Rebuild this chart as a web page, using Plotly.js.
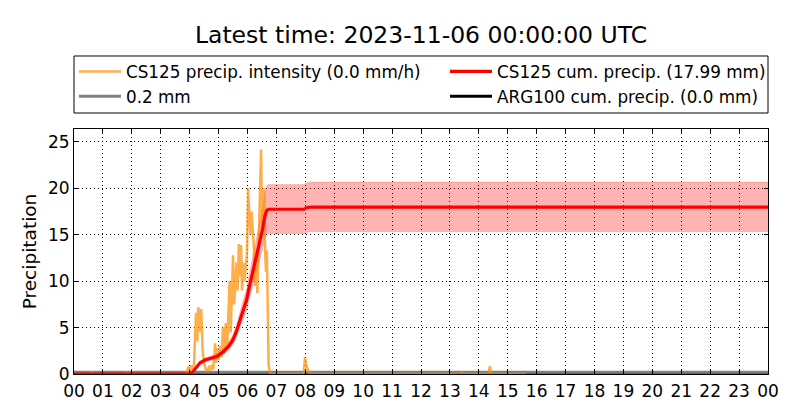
<!DOCTYPE html>
<html>
<head>
<meta charset="utf-8">
<script src="https://cdn.plot.ly/plotly-3.0.1.min.js"></script>
<style>html,body{margin:0;padding:0;background:#fff;}#chart{width:800px;height:420px;}</style>
</head>
<body>
<div id="chart"></div>
<script>
// Hours since 2023-11-06 00:00 UTC
const intensityTime = [0, 0.55, 0.6, 0.65, 1.75, 1.8, 1.85, 3.9, 3.95, 4.0, 4.05, 4.1, 4.15, 4.22, 4.26, 4.3, 4.36, 4.4, 4.45, 4.5, 4.55, 4.62, 4.68, 4.72, 4.78, 4.82, 4.88, 4.92, 4.96, 5.0, 5.05, 5.1, 5.15, 5.2, 5.25, 5.3, 5.34, 5.38, 5.42, 5.46, 5.5, 5.54, 5.58, 5.62, 5.66, 5.7, 5.74, 5.78, 5.81, 5.85, 5.9, 5.95, 5.98, 6.02, 6.06, 6.1, 6.14, 6.18, 6.22, 6.26, 6.3, 6.34, 6.38, 6.42, 6.47, 6.51, 6.54, 6.58, 6.61, 6.64, 6.67, 6.7, 6.73, 6.77, 6.82, 7.9, 7.95, 7.99, 8.03, 8.08, 8.14, 8.2, 13.35, 13.4, 13.45, 14.33, 14.38, 14.43, 15.63];
const intensity = [0, 0, 0.3, 0, 0, 0.15, 0, 0, 0.8, 0.3, 0.9, 0.5, 1.0, 6.6, 3.5, 7.2, 4.5, 7.0, 2.5, 1.2, 0.6, 0.3, 0.9, 0.4, 1.0, 0.5, 3.3, 1.2, 2.8, 1.5, 3.0, 1.8, 5.1, 2.2, 5.5, 3.0, 6.5, 10.0, 4.5, 8.0, 12.8, 7.5, 10.0, 12.0, 9.0, 14.0, 10.5, 13.9, 9.0, 12.0, 10.0, 11.5, 13.0, 20.0, 17.7, 15.0, 17.5, 15.5, 13.7, 9.5, 12.0, 8.7, 13.0, 18.0, 24.2, 15.0, 17.0, 20.0, 13.0, 11.0, 13.3, 6.5, 1.0, 0.2, 0, 0, 0.3, 1.85, 1.0, 0.5, 0.15, 0, 0, 0.15, 0, 0, 0.85, 0, 0];

const cumTime = [0, 4.0, 4.1, 4.2, 4.36, 4.53, 4.75, 4.93, 5.16, 5.35, 5.5, 5.62, 5.74, 5.86, 5.97, 6.08, 6.2, 6.32, 6.43, 6.52, 6.6, 6.66, 6.72, 7.95, 8.05, 8.2, 24];
const cumPrecip = [0, 0, 0.2, 0.6, 1.2, 1.5, 1.7, 1.87, 2.4, 3.0, 3.7, 4.6, 5.8, 6.9, 8.0, 9.6, 11.2, 12.7, 14.1, 15.6, 17.0, 17.6, 17.75, 17.75, 17.94, 17.99, 17.99];

const thresholdTime = [0, 24];
const thresholdValue = [0.2, 0.2];

const argTime = [0, 24];
const argCum = [0, 0];

const tickHours = [0,1,2,3,4,5,6,7,8,9,10,11,12,13,14,15,16,17,18,19,20,21,22,23,24];
const tickLabels = ["00","01","02","03","04","05","06","07","08","09","10","11","12","13","14","15","16","17","18","19","20","21","22","23","00"];

const bandUpper = cumPrecip.map(v => v * 1.15);
const bandLower = cumPrecip.map(v => v * 0.85);

const font = "DejaVu Sans, sans-serif";

const traces = [
  {x: cumTime, y: bandLower, mode: "lines", line: {width: 0, color: "rgba(255,0,0,0)"}, showlegend: false, hoverinfo: "skip"},
  {x: cumTime, y: bandUpper, mode: "lines", fill: "tonexty", fillcolor: "rgba(255,0,0,0.3)", line: {width: 1, color: "rgba(255,0,0,0.15)"}, showlegend: false, hoverinfo: "skip"},
  {x: argTime, y: argCum, mode: "lines", name: "ARG100 cum. precip. (0.0 mm)", line: {color: "#000000", width: 3}, legend: "legend2", legendrank: 2},
  {x: thresholdTime, y: thresholdValue, mode: "lines", name: "0.2 mm", line: {color: "#808080", width: 3}, legend: "legend", legendrank: 2},
  {x: intensityTime, y: intensity, mode: "lines", name: "CS125 precip. intensity (0.0 mm/h)", line: {color: "rgba(255,140,0,0.7)", width: 2.5}, legend: "legend", legendrank: 1},
  {x: cumTime, y: cumPrecip, mode: "lines", name: "CS125 cum. precip. (17.99 mm)", line: {color: "#ff0000", width: 3.2}, legend: "legend2", legendrank: 1}
];

const legendBase = {orientation: "v", yanchor: "top", y: 1.306, xanchor: "left", borderwidth: 0, bgcolor: "rgba(0,0,0,0)", itemwidth: 42, font: {family: font, size: 16.8, color: "#000"}, traceorder: "normal"};

const layout = {
  width: 800, height: 420,
  margin: {l: 74, r: 32, t: 129, b: 46},
  paper_bgcolor: "#ffffff", plot_bgcolor: "#ffffff",
  font: {family: font, size: 16, color: "#000"},
  title: {text: "Latest time: 2023-11-06 00:00:00 UTC", font: {family: font, size: 23.5, color: "#000"}, xref: "paper", x: 0.5, xanchor: "center", y: 0.917, yanchor: "middle"},
  showlegend: true,
  legend: Object.assign({}, legendBase, {x: 0}),
  legend2: Object.assign({}, legendBase, {x: 0.5346}),
  shapes: [{type: "rect", xref: "paper", yref: "paper", x0: 0, x1: 1, y0: 1.0653, y1: 1.298, line: {color: "#000", width: 1}, fillcolor: "rgba(0,0,0,0)", layer: "below"}],
  xaxis: {range: [0, 24], tickvals: tickHours, ticktext: tickLabels, showgrid: true, gridcolor: "#000", griddash: "1px,3px", gridwidth: 1, zeroline: false, showline: true, linecolor: "#000", linewidth: 1, mirror: "allticks", ticks: "inside", ticklen: 4, tickcolor: "#000", ticklabelstandoff: 2, tickfont: {family: font, size: 17, color: "#000"}, fixedrange: true},
  yaxis: {range: [0, 26.4], tickvals: [0,5,10,15,20,25], showgrid: true, gridcolor: "#000", griddash: "1px,3px", gridwidth: 1, zeroline: false, showline: true, linecolor: "#000", linewidth: 1, mirror: "allticks", ticks: "inside", ticklen: 4, tickcolor: "#000", tickfont: {family: font, size: 17, color: "#000"}, title: {text: "Precipitation", font: {family: font, size: 18.5, color: "#000"}, standoff: 6}, fixedrange: true}
};

Plotly.newPlot("chart", traces, layout, {staticPlot: true, displayModeBar: false});
</script>
</body>
</html>
